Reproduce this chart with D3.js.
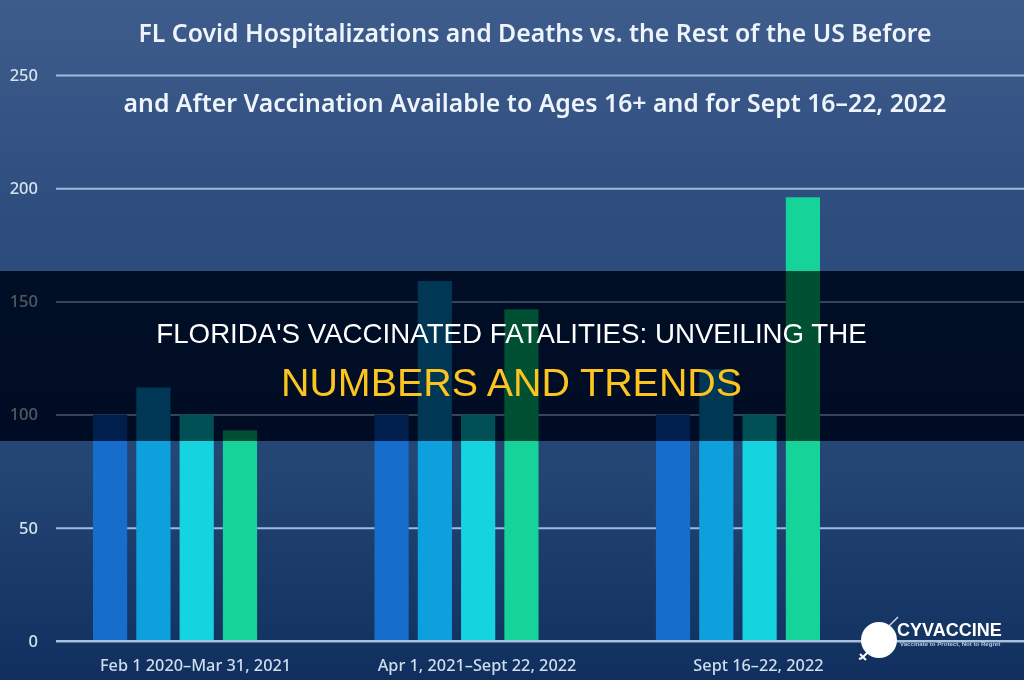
<!DOCTYPE html>
<html>
<head>
<meta charset="utf-8">
<script src="https://cdn.jsdelivr.net/npm/d3@7"></script>
<style>
  html, body { margin: 0; padding: 0; background: #12305f; }
  #stage { position: relative; width: 1024px; height: 680px; overflow: hidden; }
  #stage svg { position: absolute; left: 0; top: 0; }
  #band { position: absolute; left: 0; top: 271px; width: 1024px; height: 170px;
          backdrop-filter: brightness(.41) contrast(1.17); }
</style>
</head>
<body>
<div id="stage"></div>
<script>
// Index values per period, one array per bar within a period
const periods = ["Feb 1 2020–Mar 31, 2021", "Apr 1, 2021–Sept 22, 2022", "Sept 16–22, 2022"];
const seriesKeys = ["flHospitalizations", "usHospitalizations", "flDeaths", "usDeaths"];
const flHospitalizations = [100, 100, 100];
const usHospitalizations = [112, 159, 120];
const flDeaths = [100, 100, 100];
const usDeaths = [93, 146.5, 196];
const seriesValues = [flHospitalizations, usHospitalizations, flDeaths, usDeaths];
const seriesColors = ["#186dcc", "#0ea0dc", "#12d3e0", "#14d39a"];
const yTicks = [0, 50, 100, 150, 200, 250];
const titleLines = [
  "FL Covid Hospitalizations and Deaths vs. the Rest of the US Before",
  "and After Vaccination Available to Ages 16+ and for Sept 16–22, 2022"
];
const bannerLines = ["FLORIDA'S VACCINATED FATALITIES: UNVEILING THE", "NUMBERS AND TRENDS"];

const W = 1024, H = 680;
const stage = d3.select("#stage");

const svg = stage.append("svg").attr("width", W).attr("height", H);
const defs = svg.append("defs");
const bg = defs.append("linearGradient").attr("id", "bg").attr("x1", 0).attr("y1", 0).attr("x2", 0).attr("y2", 1);
[[0, "#3e5c8b"], [0.3, "#2f4e80"], [0.7, "#234574"], [1, "#102f5e"]].forEach(([o, c]) =>
  bg.append("stop").attr("offset", o).attr("stop-color", c));
defs.append("filter").attr("id", "soft").attr("x", "-5%").attr("y", "-5%").attr("width", "110%").attr("height", "110%")
  .append("feGaussianBlur").attr("stdDeviation", 0.55);

svg.append("rect").attr("width", W).attr("height", H).attr("fill", "url(#bg)");

const chart = svg.append("g").attr("filter", "url(#soft)");

const y = d3.scaleLinear().domain([0, 250]).range([641, 75]);
const x = d3.scaleBand().domain(periods).range([93, 820]).paddingInner(0.417);
const xInner = d3.scaleBand().domain(seriesKeys).range([0, x.bandwidth()]).paddingInner(0.21);

// Horizontal gridlines and value labels
const yAxis = chart.append("g")
  .attr("transform", "translate(56,0)")
  .call(d3.axisLeft(y).tickValues(yTicks).tickSize(-(W - 56)).tickPadding(18).tickFormat(d3.format("d")));
yAxis.select(".domain").remove();
yAxis.selectAll("line").attr("stroke", "#9dbbdc").attr("stroke-width", 2);
yAxis.selectAll("text").attr("fill", "#d5e2f0")
  .style("font", "500 16.5px 'Noto Sans', sans-serif");

// Bars, one group per period
chart.append("g").selectAll("g").data(seriesKeys).join("g")
  .attr("fill", (d, i) => seriesColors[i])
  .selectAll("rect").data((k, i) => periods.map((p, j) => ({ p, k, v: seriesValues[i][j] }))).join("rect")
  .attr("x", d => x(d.p) + xInner(d.k))
  .attr("width", xInner.bandwidth())
  .attr("y", d => y(d.v))
  .attr("height", d => y(0) - y(d.v));

// Baseline sits over the bar feet
chart.append("line").attr("x1", 56).attr("x2", W).attr("y1", y(0)).attr("y2", y(0))
  .attr("stroke", "#a9c2dc").attr("stroke-width", 2);

// Period labels sit a little right of their bar groups
const labelShift = 20.5;
chart.append("g").selectAll("text").data(periods).join("text")
  .attr("x", d => x(d) + x.bandwidth() / 2 + labelShift)
  .attr("y", 671)
  .attr("text-anchor", "middle")
  .attr("fill", "#cfdeee")
  .style("font", "500 16.3px 'Noto Sans', sans-serif")
  .text(d => d);

// Two-line chart heading
chart.append("g").selectAll("text").data(titleLines).join("text")
  .attr("x", 535)
  .attr("y", (d, i) => i === 0 ? 42 : 112)
  .attr("text-anchor", "middle")
  .attr("fill", "#eef4fb")
  .style("font", "600 24.8px 'Noto Sans', sans-serif")
  .text(d => d);

// Dark banner dims whatever lies beneath it
stage.append("div").attr("id", "band");

const front = stage.append("svg").attr("width", W).attr("height", H);
const banner = front.append("g").attr("text-anchor", "middle").style("font-family", "'Liberation Sans', Arial, sans-serif");
banner.append("text").attr("x", 511.5).attr("y", 343).attr("fill", "#ffffff")
  .style("font-size", "27.7px").text(bannerLines[0]);
banner.append("text").attr("x", 511.5).attr("y", 396).attr("fill", "#fbc41f")
  .style("font-size", "39.4px").text(bannerLines[1]);

// Brand mark, lower right
const logo = front.append("g");
logo.append("circle").attr("cx", 879).attr("cy", 640).attr("r", 18).attr("fill", "#ffffff");
logo.append("line").attr("x1", 889).attr("y1", 626).attr("x2", 898).attr("y2", 617)
  .attr("stroke", "#dfe8f2").attr("stroke-width", 1.2);
logo.append("path").attr("d", "M868 652 L862 658 M860 654 L866 660 M862 658 L859 659")
  .attr("stroke", "#ffffff").attr("stroke-width", 2).attr("fill", "none");
logo.append("text").attr("x", 897).attr("y", 636).attr("fill", "#ffffff")
  .style("font", "700 18px 'Liberation Sans', Arial, sans-serif").text("CYVACCINE");
logo.append("text").attr("x", 900).attr("y", 646).attr("fill", "#b9c9dc")
  .style("font", "700 6.1px 'Liberation Sans', Arial, sans-serif").text("Vaccinate to Protect, Not to Regret");
</script>
</body>
</html>
